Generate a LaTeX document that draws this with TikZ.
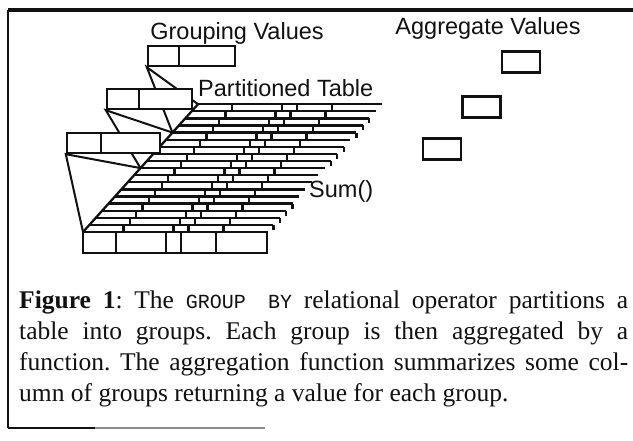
\documentclass[tikz,border=0pt]{standalone}
\usepackage{fontspec}
\setmainfont{Liberation Serif}
\setsansfont{Liberation Sans}
\newfontfamily\codefont{Liberation Mono}
\usepackage{tikz}
\usetikzlibrary{positioning}
\definecolor{scanblack}{RGB}{17, 17, 17}
\definecolor{scangray}{RGB}{140, 140, 140}
\tolerance=9999
\frenchspacing
\newcommand{\rowstep}{7.1}
\tikzset{
    valbox/.style={rectangle, draw=scanblack, line width=2.4pt, fill=white, inner sep=0pt, minimum height=20pt, minimum width=#1},
    aggbox/.style={rectangle, draw=scanblack, line width=2.4pt, inner sep=0pt, minimum width=38pt, minimum height=21pt},
    rowline/.style={draw=scanblack, line width=2.3pt},
    wedge/.style={draw=scanblack, line width=2pt},
    headtext/.style={font=\sffamily\fontsize{23.5}{28}\selectfont, inner sep=0pt, text=scanblack},
    captext/.style={font=\fontsize{25.5}{30.8}\selectfont, inner sep=0pt, text width=609pt, align=justify, anchor=north west, text=scanblack}
}

\begin{document}
\begin{tikzpicture}[x=1pt, y=-1pt]
    \useasboundingbox (0,0) rectangle (633,441);
    \draw[scanblack, line width=3.8pt] (8,10) -- (633,10);
    \draw[scanblack, line width=2.5pt] (8,10) -- (8,428);
    \draw[scanblack, line width=2pt] (8,428) -- (95,428);
    \draw[scangray, line width=1.5pt] (95,428) -- (265,428);

    \node[rectangle, draw=scanblack, line width=2.4pt, inner sep=0pt, minimum width=184pt, minimum height=21pt] (front) at (175,242.5) {};
    \foreach \d in {34,84,99,134}
        \draw[rowline] ([xshift=\d pt]front.north west) -- ([xshift=\d pt]front.south west);
    \coordinate (row0) at (83,232);
    \foreach \i in {1,...,18} {
        \pgfmathsetmacro\xl{83+6.39*\i}
        \pgfmathsetmacro\yl{232-\rowstep*\i}
        \coordinate (row\i) at (\xl,\yl);
        \draw[rowline] (row\i) -- ++(184,0);
        \foreach \d in {34,84,99,134}
            \draw[rowline] (\xl+\d,\yl) -- ++(0,\rowstep);
    }
    \foreach \i in {1,2,3,4,10,11,12,14,15,16}
        \draw[rowline] ([xshift=184pt]row\i) -- ++(0,5);
    \draw[rowline] (row18) -- (row0);

    \node[valbox=87pt] (gv1) at (191.5,56) {};
    \draw[wedge] (row18) -- (gv1.south west) -- (row14);
    \node[valbox=85pt] (gv2) at (149.5,99) {};
    \draw[wedge] (row14) -- (gv2.south west) -- (row9);
    \node[valbox=93pt] (gv3) at (113.5,143) {};
    \draw[wedge] (row9) -- (gv3.south west) -- (row0);
    \foreach \b/\d in {gv1/32, gv2/33, gv3/35}
        \draw[wedge] ([xshift=\d pt]\b.north west) -- ([xshift=\d pt]\b.south west);

    \node[aggbox] (agg1) at (521,62) {};
    \node[aggbox] (agg2) at (481.5,107) {};
    \node[aggbox] (agg3) at (442,149) {};

    \node[headtext, anchor=base] (grouplbl) at (237,40) {Grouping Values};
    \node[headtext, anchor=base] (agglbl) at (488,35) {Aggregate Values};
    \node[headtext, anchor=base west] (parttbl) at (198,97) {Partitioned Table};
    \node[headtext, anchor=base west] (sumlbl) at (309,198) {Sum()};

    \node[captext] (caption) at (19,291) {\textbf{Figure 1}: The {\codefont\fontsize{20}{20}\selectfont GROUP~BY} relational operator partitions a\linebreak table into groups. Each group is then aggregated by a\linebreak function. The aggregation function summarizes some col-\linebreak umn of groups returning a value for each group.};
\end{tikzpicture}
\end{document}
